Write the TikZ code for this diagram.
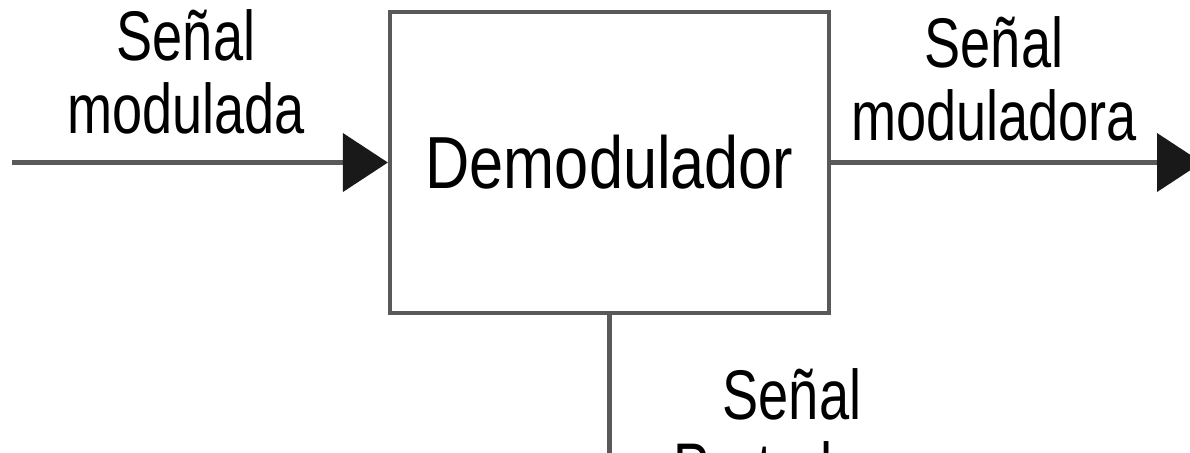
\documentclass[tikz,border=0pt]{standalone}
\usepackage{fontspec}
\setmainfont{Liberation Sans}[FakeStretch=0.77]
\newfontfamily\blockfont{Liberation Sans}[FakeStretch=0.83]
\usetikzlibrary{arrows.meta}
\begin{document}
\begin{tikzpicture}[
		senal/.style={align=center, inner sep=0pt, anchor=north, font=\fontsize{20}{20.8}\selectfont},
		linea/.style={draw=black!65, line width=1.2pt},
		flecha/.style={linea, -{Triangle[length=0.45cm, width=0.58cm, color=black!90]}}
	]
	\useasboundingbox (0,0) rectangle (11.9,-4.52);
	\node [linea, minimum width=4.39cm, minimum height=3.01cm, font=\blockfont\fontsize{21}{24}\selectfont] (demod) at (6.095,-1.625) {Demodulador};
	\coordinate (entra) at (0.12,-1.625);
	\coordinate (sale) at (12.02,-1.625);
	\coordinate (abajo) at (6.095,-4.7);
	\draw [flecha] (entra) to (demod.west);
	\draw [flecha] (demod.east) to (sale);
	\draw [linea] (demod.south) to (abajo);
	\node [senal] (modulada) at (1.86,-0.09) {Señal\\modulada};
	\node [senal] (moduladora) at (9.94,-0.16) {Señal\\moduladora};
	\node [senal] (portadora) at (7.92,-3.68) {Señal\\Portadora};
\end{tikzpicture}
\end{document}
